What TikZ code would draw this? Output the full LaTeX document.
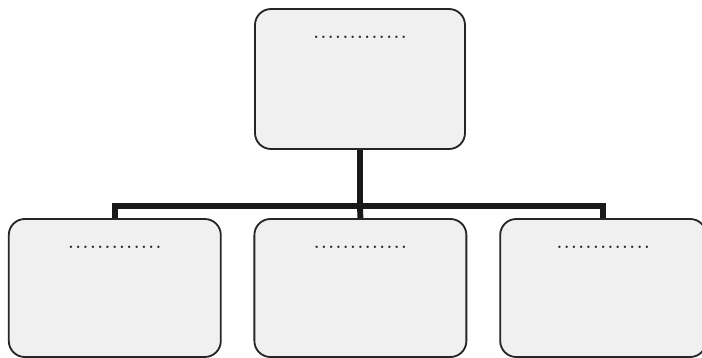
\documentclass[tikz,border=0pt]{standalone}
\usetikzlibrary{positioning}

\tikzset{
	box/.style={draw=black!85, line width=1.3pt, fill=black!6, rounded corners=0.4cm, minimum width=5.3cm, minimum height=3.45cm, inner sep=0pt},
	dotline/.style={inner sep=0pt, text=black!85, font=\huge},
	bar/.style={line width=4.2pt, draw=black!90, line join=miter}
}

\begin{document}
\begin{tikzpicture}

	\useasboundingbox (0,0) rectangle (17.55,8.95);

	\node [box, minimum width=5.25cm, minimum height=3.5cm] (top) at (9.0,6.975) {};
	\node [box] (left) at (2.87,1.75) {};
	\node [box] (middle) at (9.01,1.75) {};
	\node [box, minimum width=5.15cm] (right) at (15.08,1.75) {};

	\node [dotline, below=0.7cm of top.north] (topdots) {.............};
	\node [dotline, below=0.7cm of left.north] (leftdots) {.............};
	\node [dotline, below=0.7cm of middle.north] (middledots) {.............};
	\node [dotline, below=0.7cm of right.north] (rightdots) {.............};

	\coordinate (junction) at (9.0,3.8);
	\draw [bar] (top.south) -- (junction);
	\draw [bar] (left.north) |- (junction) -| (right.north);
	\draw [bar] (junction) -- (middle.north);

\end{tikzpicture}
\end{document}
